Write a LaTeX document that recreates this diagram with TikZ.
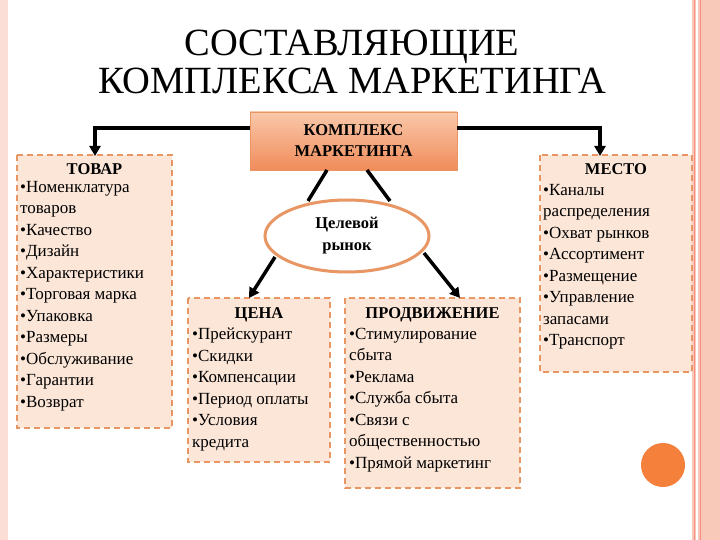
\documentclass[tikz,border=0pt]{standalone}
\usepackage{fontspec}
\setmainfont{Liberation Serif}
\usetikzlibrary{shapes.geometric,arrows.meta}
\definecolor{boxfill}{RGB}{252,230,216}
\definecolor{boxline}{RGB}{232,150,100}
\definecolor{orangeA}{RGB}{250,200,170}
\definecolor{orangeB}{RGB}{240,140,90}
\definecolor{circ}{RGB}{244,128,60}
\definecolor{stripe}{RGB}{248,200,185}
\tikzset{
 listbox/.style={draw=boxline,fill=boxfill,dashed,dash pattern=on 6pt off 4pt,line width=2pt,anchor=north west,inner sep=0pt},
 conn/.style={line width=3.5pt},
 arr/.style={conn,-{Triangle[length=10pt,width=11pt]}},
 txt/.style={font=\fontsize{17}{21.5}\selectfont,align=left,anchor=north west,inner sep=0pt},
 head/.style={font=\fontsize{16.5}{21.5}\selectfont\bfseries,anchor=north,inner sep=0pt}
}
\begin{document}
\begin{tikzpicture}[x=1pt,y=-1pt]
\useasboundingbox (0,0) rectangle (720,540);
\fill[white] (0,0) rectangle (720,540);
% strips
\fill[stripe!60] (0,0) rectangle (8,540);
\fill[stripe] (692,0) rectangle (720,540);
\draw[stripe!70!red,line width=0.8pt] (694,0)--(694,540) (700,0)--(700,540);
\draw[white,line width=1.5pt] (697,0)--(697,540);
% title
\node[font=\fontsize{38.5}{38}\selectfont,align=center] (title) at (352,62) {СОСТАВЛЯЮЩИЕ\\КОМПЛЕКСА МАРКЕТИНГА};
% top box
\node[draw=boxline,top color=orangeA,bottom color=orangeB,minimum width=207pt,minimum height=58pt,align=center,font=\fontsize{16.5}{21}\selectfont\bfseries] (km) at (353.5,141) {КОМПЛЕКС\\МАРКЕТИНГА};
% ellipse
\node[ellipse,draw=boxline,fill=white,line width=3pt,minimum width=164pt,minimum height=72pt,align=center,font=\fontsize{16.5}{22}\selectfont\bfseries] (cr) at (347,236) {Целевой\\рынок};
% boxes
\draw[listbox] (17,155) rectangle (172,428);
\node[head] (tovh) at (94.5,163) {ТОВАР};
\node[txt] (tov) at (20,181) {•Номенклатура\\товаров\\•Качество\\•Дизайн\\•Характеристики\\•Торговая марка\\•Упаковка\\•Размеры\\•Обслуживание\\•Гарантии\\•Возврат};
\draw[listbox] (188,298) rectangle (330,462);
\node[head] (ceh) at (259,307) {ЦЕНА};
\node[txt] (ce) at (192,328) {•Прейскурант\\•Скидки\\•Компенсации\\•Период оплаты\\•Условия\\кредита};
\draw[listbox] (345,298) rectangle (520,488);
\node[head] (prh) at (432.5,307) {ПРОДВИЖЕНИЕ};
\node[txt] (pr) at (349,328) {•Стимулирование\\сбыта\\•Реклама\\•Служба сбыта\\•Связи с\\общественностью\\•Прямой маркетинг};
\draw[listbox] (540,155) rectangle (692,372);
\node[head] (meh) at (616,163) {МЕСТО};
\node[txt] (me) at (543,184) {•Каналы\\распределения\\•Охват рынков\\•Ассортимент\\•Размещение\\•Управление\\запасами\\•Транспорт};
% connectors
\coordinate (l1) at (95,128); \coordinate (lt) at (95,156);
\coordinate (r1) at (600,128); \coordinate (rt) at (600,156);
\draw[arr] (km.west |- l1) -- (l1) -- (lt);
\draw[arr] (km.east |- r1) -- (r1) -- (rt);
\draw[conn] (327,170) -- (308,201);
\draw[conn] (367,170) -- (390,201);
\draw[arr] (275,257) -- (249,298);
\draw[arr] (424,253) -- (460,298);
% circle
\fill[circ] (663,465) circle (22);
\end{tikzpicture}
\end{document}
